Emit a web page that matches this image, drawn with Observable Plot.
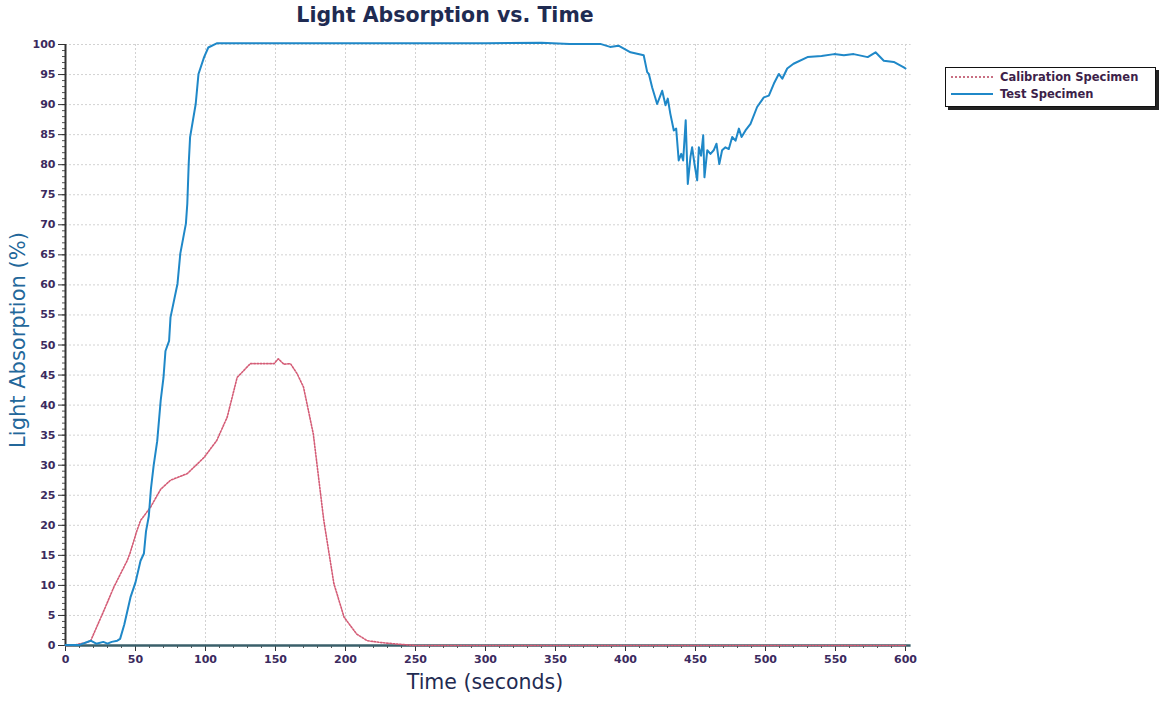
<!DOCTYPE html>
<html>
<head>
<meta charset="utf-8">
<script src="https://cdn.jsdelivr.net/npm/d3@7"></script>
<script src="https://cdn.jsdelivr.net/npm/@observablehq/plot@0.6"></script>
<style>
  html, body { margin: 0; padding: 0; background: #fff; }
  #wrap { position: relative; width: 1159px; height: 702px; font-family: "DejaVu Sans", Verdana, sans-serif; }
  #title { position: absolute; left: 0; width: 890px; top: 3px; text-align: center; font-size: 20.5px; font-weight: bold; color: #1f2b52; }
  #ylabel { position: absolute; left: 18px; top: 340px; transform: translate(-50%, -50%) rotate(-90deg); white-space: nowrap; font-size: 21px; color: #23679a; }
  #xlabel { position: absolute; left: 485px; top: 670px; transform: translateX(-50%); font-size: 20.5px; color: #1f2b52; white-space: nowrap; }
  #legend { position: absolute; left: 945px; top: 67px; width: 209px; height: 38px; border: 1.5px solid #111; box-shadow: 3px 3px 0 #222; background: #fff; font-size: 11.5px; font-weight: bold; color: #3d1f4a; }
  .lrow { position: absolute; left: 4px; display: flex; align-items: center; }
  .lrow svg { margin-right: 6px; }
</style>
</head>
<body>
<div id="wrap">
  <div id="chart"></div>
  <div id="title">Light Absorption vs. Time</div>
  <div id="ylabel">Light Absorption (%)</div>
  <div id="xlabel">Time (seconds)</div>
  <div id="legend">
    <div class="lrow" style="top:2px"><svg width="44" height="10"><line x1="1" y1="5" x2="43" y2="5" stroke="#b8405a" stroke-width="1.5" stroke-dasharray="2,2"/></svg><span>Calibration Specimen</span></div>
    <div class="lrow" style="top:19px"><svg width="44" height="10"><line x1="1" y1="5" x2="43" y2="5" stroke="#1f88c8" stroke-width="2"/></svg><span>Test Specimen</span></div>
  </div>
</div>
<script>
// Test Specimen (blue)
const testTime = [0, 10, 18, 22, 27, 30, 33, 37, 39, 42, 46.4, 50, 53.6, 56, 57.5, 59.5, 61, 63, 65.5, 68, 70, 71.4, 74, 75, 80, 82, 86, 87, 88, 89, 93, 95, 99, 102, 108, 150, 200, 250, 300, 340, 360, 382, 389, 395, 403.6, 413, 415.5, 416.7, 419, 422.6, 426.2, 428.6, 430.2, 432, 434.5, 436.2, 438, 439.8, 441.2, 443, 444.5, 446.4, 447.6, 449.3, 451.2, 452.4, 454, 455.5, 456.4, 458.4, 460.7, 463, 465, 467, 469, 471.4, 473.8, 476.2, 478.6, 481, 482.9, 485.7, 489.3, 494, 498.8, 502.4, 506, 509.5, 512, 515.5, 520, 530, 540, 549, 556, 563, 573, 578.6, 584.5, 591.6, 598.8, 600];
const testValue = [0.1, 0.1, 0.8, 0.3, 0.6, 0.3, 0.6, 0.8, 1.1, 3.5, 8.0, 10.5, 14.1, 15.3, 19.0, 21.5, 26.0, 30.0, 34.0, 40.8, 44.6, 49.0, 50.7, 54.6, 60.2, 65.2, 70.2, 73.5, 80.1, 84.6, 90.1, 95.1, 97.9, 99.5, 100.2, 100.2, 100.2, 100.2, 100.2, 100.3, 100.1, 100.1, 99.6, 99.8, 98.7, 98.2, 95.4, 95.1, 92.9, 90.1, 92.3, 89.9, 91.0, 88.5, 85.7, 86.0, 80.7, 81.8, 80.7, 87.4, 76.8, 81.3, 82.9, 80.1, 77.4, 82.9, 81.5, 84.9, 77.9, 82.4, 81.8, 82.4, 83.5, 80.1, 82.4, 82.9, 82.6, 84.6, 84.0, 86.0, 84.6, 85.7, 86.8, 89.6, 91.2, 91.5, 93.5, 95.1, 94.3, 96.0, 96.8, 97.9, 98.1, 98.4, 98.2, 98.4, 97.9, 98.7, 97.3, 97.1, 96.2, 96.0];

// Calibration Specimen (red, dotted)
const calTime = [0, 5, 10.7, 15, 18, 27.4, 34.5, 44, 46, 51, 53.6, 60.7, 68, 75, 87, 99, 108, 115.5, 122.6, 132, 139, 149, 152, 156, 160.7, 165.5, 170, 177, 184.5, 191.7, 199, 208, 215.5, 225, 234, 250, 300, 400, 500, 600];
const calValue = [0, 0, 0.3, 0.5, 0.8, 5.8, 9.7, 14.1, 15.3, 19.1, 20.8, 23.0, 26.0, 27.5, 28.6, 31.3, 34.1, 38.0, 44.6, 46.9, 46.9, 46.9, 47.7, 46.8, 46.9, 45.2, 43.0, 35.2, 20.8, 10.3, 4.7, 1.9, 0.8, 0.5, 0.3, 0, 0, 0, 0, 0];

const xTicks = [0, 50, 100, 150, 200, 250, 300, 350, 400, 450, 500, 550, 600];
const yTicks = [0, 5, 10, 15, 20, 25, 30, 35, 40, 45, 50, 55, 60, 65, 70, 75, 80, 85, 90, 95, 100];
const xMinor = d3.range(0, 601, 10);
const yMinor = d3.range(0, 101, 1);

const testData = testTime.map((t, i) => ({t, v: testValue[i]}));
const calData = calTime.map((t, i) => ({t, v: calValue[i]}));

const chart = Plot.plot({
  width: 1159,
  height: 702,
  marginLeft: 65,
  marginRight: 254,
  marginTop: 44,
  marginBottom: 57,
  style: { fontFamily: "DejaVu Sans, Verdana, sans-serif", fontSize: "11px", fontWeight: "bold", color: "#3b2a5e", background: "transparent" },
  x: { domain: [0, 600], label: null },
  y: { domain: [0, 100], label: null },
  marks: [
    Plot.ruleX(xTicks.slice(1), { stroke: "#d2d2d2", strokeDasharray: "2,2", strokeWidth: 1 }),
    Plot.ruleY(yTicks.slice(1), { stroke: "#d2d2d2", strokeDasharray: "2,2", strokeWidth: 1, x1: 0, x2: 604 }),
    Plot.axisY({ ticks: yMinor, tickSize: 3, tickFormat: () => "", stroke: "#555" }),
    Plot.axisX({ ticks: xMinor, tickSize: 3, tickFormat: () => "", stroke: "#555" }),
    Plot.axisY({ ticks: yTicks, tickSize: 7, tickPadding: 3, tickFormat: d => String(d), stroke: "#333" }),
    Plot.axisX({ ticks: xTicks, tickSize: 6, tickPadding: 4, tickFormat: d => String(d), stroke: "#333" }),
    Plot.ruleX([0], { stroke: "#333", strokeWidth: 2 }),
    Plot.ruleY([0], { stroke: "#3a5f6a", strokeWidth: 2.5, x1: 0, x2: 604 }),
    Plot.line(calData, { x: "t", y: "v", stroke: "#d45c76", strokeWidth: 1.6, strokeDasharray: "1.6,1.6" }),
    Plot.line(testData, { x: "t", y: "v", stroke: "#1f88c8", strokeWidth: 2 })
  ]
});
document.getElementById("chart").appendChild(chart);
</script>
</body>
</html>
